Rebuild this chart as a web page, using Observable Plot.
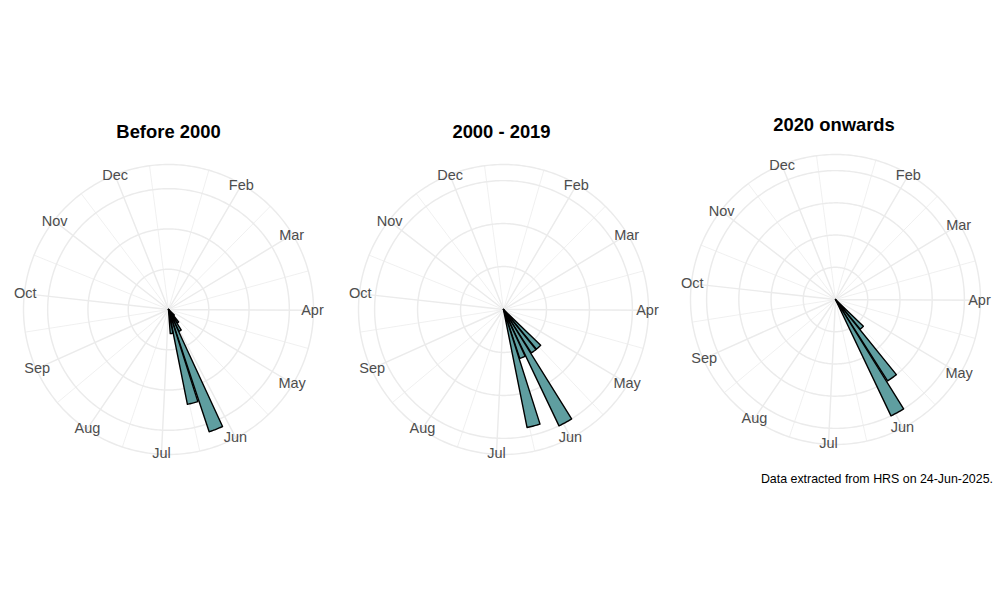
<!DOCTYPE html>
<html>
<head>
<meta charset="utf-8">
<script src="https://cdn.jsdelivr.net/npm/d3@7"></script>
<script src="https://cdn.jsdelivr.net/npm/@observablehq/plot@0.6"></script>
<style>
  body { margin: 0; background: #ffffff; font-family: "Liberation Sans", Arial, sans-serif; }
  #root { position: relative; width: 1000px; height: 600px; overflow: hidden; background: #ffffff; }
  .panel { position: absolute; }
  .title { position: absolute; width: 300px; text-align: center; font-weight: bold; font-size: 18.4px; line-height: 22px; color: #000; white-space: nowrap; }
  .caption { position: absolute; font-size: 12.4px; line-height: 14px; color: #000; white-space: nowrap; }
</style>
</head>
<body>
<div id="root"></div>
<script>
// ---------------- data ----------------
const monthLabels = ["Feb", "Mar", "Apr", "May", "Jun", "Jul", "Aug", "Sep", "Oct", "Nov", "Dec"];
const monthStartDays = [32, 60, 91, 121, 152, 182, 213, 244, 274, 305, 335];
const weekNumbers = [20, 21, 22, 23, 24, 25];
const countsBefore2000 = [1, 2, 3, 16, 12, 3];
const counts2000to2019 = [6, 6, 15, 6, 14, 0];
const counts2020onwards = [6, 15, 20, 0, 0, 0];
const panelTitles = ["Before 2000", "2000 - 2019", "2020 onwards"];
const radialBreaksBefore2000 = [5, 10, 15];
const radialBreaks2000to2019 = [5, 10, 15];
const radialBreaks2020onwards = [5, 10, 15, 20];
const thetaDomain = [2.1, 356.4]; // day-of-year range mapped to the full circle
const captionText = "Data extracted from HRS on 24-Jun-2025.";

// ---------------- layout / style ----------------
const GRID = "#EBEBEB";
const FILL = "#5F9EA0";
const SVG_W = 330, SVG_H = 330;
const OUTER_PX = 145;
const INNER_PX = OUTER_PX * 0.4 / 0.45;
const panelLayout = [
  {left: 2.5, top: 144, titleX: 168.5, titleTop: 121.2},
  {left: 338, top: 143.5, titleX: 501.5, titleTop: 121.2},
  {left: 670, top: 134, titleX: 834, titleTop: 113.6}
];

function polarProjection(maxR) {
  return ({width, height}) => {
    const cx = width / 2, cy = height / 2;
    const angle = d3.scaleLinear(thetaDomain, [0, 2 * Math.PI]);
    const radius = d3.scaleLinear([0, maxR], [0, INNER_PX]);
    return d3.geoTransform({
      point(x, y) {
        const a = angle(x), r = radius(y);
        this.stream.point(cx + r * Math.sin(a), cy - r * Math.cos(a));
      }
    });
  };
}

function minorBreaks(b) {
  const bd = b[1] - b[0];
  const ext = [b[0] - bd, ...b, b[b.length - 1] + bd];
  const out = [];
  for (let i = 0; i < ext.length - 1; i++) out.push((ext[i] + ext[i + 1]) / 2);
  return out.filter(d => d >= thetaDomain[0] && d <= thetaDomain[1]);
}

function makePanel(counts, breaks) {
  const maxR = d3.max(counts);
  const outerR = maxR * 0.45 / 0.4;
  const circleDays = d3.range(thetaDomain[0], thetaDomain[1], 1).concat([thetaDomain[1], thetaDomain[0]]);
  const rings = {type: "MultiLineString", coordinates: breaks.concat([outerR]).map(r => circleDays.map(d => [d, r]))};
  const majors = {type: "MultiLineString", coordinates: monthStartDays.map(d => [[d, 0], [d, outerR]])};
  const minors = {type: "MultiLineString", coordinates: minorBreaks(monthStartDays).map(d => [[d, 0], [d, outerR]])};
  const wedges = weekNumbers
    .map((w, i) => ({w, n: counts[i]}))
    .filter(d => d.n > 0)
    .map(({w, n}) => {
      const d0 = 7 * (w - 1) + 0.5 + 0.35;
      const d1 = 7 * w + 0.5 - 0.35;
      const arc = d3.range(0, 13).map(k => [d0 + (d1 - d0) * k / 12, n]);
      return {type: "Feature", properties: {week: w, count: n},
        geometry: {type: "Polygon", coordinates: [[[d0, 0], ...arc, [d0, 0]]]}};
    });
  const labelR = outerR * 0.993;
  return Plot.plot({
    width: SVG_W,
    height: SVG_H,
    margin: 0,
    x: {axis: null},
    y: {axis: null},
    projection: polarProjection(maxR),
    style: {background: "transparent", overflow: "visible"},
    marks: [
      Plot.geo(minors, {stroke: GRID, strokeWidth: 0.75, fill: "none"}),
      Plot.geo(majors, {stroke: GRID, strokeWidth: 1.45, fill: "none"}),
      Plot.geo(rings, {stroke: GRID, strokeWidth: 1.45, fill: "none"}),
      Plot.geo(wedges, {fill: FILL, stroke: "#000000", strokeWidth: 1.4}),
      Plot.text(monthLabels, {
        x: (d, i) => monthStartDays[i],
        y: () => labelR,
        text: d => d,
        fill: "#4D4D4D",
        fontSize: 14.5,
        fontFamily: "Liberation Sans, Arial, sans-serif",
        textAnchor: "middle",
        lineAnchor: "middle"
      })
    ]
  });
}

const root = document.getElementById("root");
const panelData = [
  [countsBefore2000, radialBreaksBefore2000],
  [counts2000to2019, radialBreaks2000to2019],
  [counts2020onwards, radialBreaks2020onwards]
];
panelData.forEach(([counts, breaks], i) => {
  const lay = panelLayout[i];
  const holder = document.createElement("div");
  holder.className = "panel";
  holder.style.left = lay.left + "px";
  holder.style.top = lay.top + "px";
  holder.appendChild(makePanel(counts, breaks));
  root.appendChild(holder);
  const t = document.createElement("div");
  t.className = "title";
  t.style.left = (lay.titleX - 150) + "px";
  t.style.top = lay.titleTop + "px";
  t.textContent = panelTitles[i];
  root.appendChild(t);
});
const cap = document.createElement("div");
cap.className = "caption";
cap.style.right = "7px";
cap.style.top = "471.8px";
cap.textContent = captionText;
root.appendChild(cap);
</script>
</body>
</html>
